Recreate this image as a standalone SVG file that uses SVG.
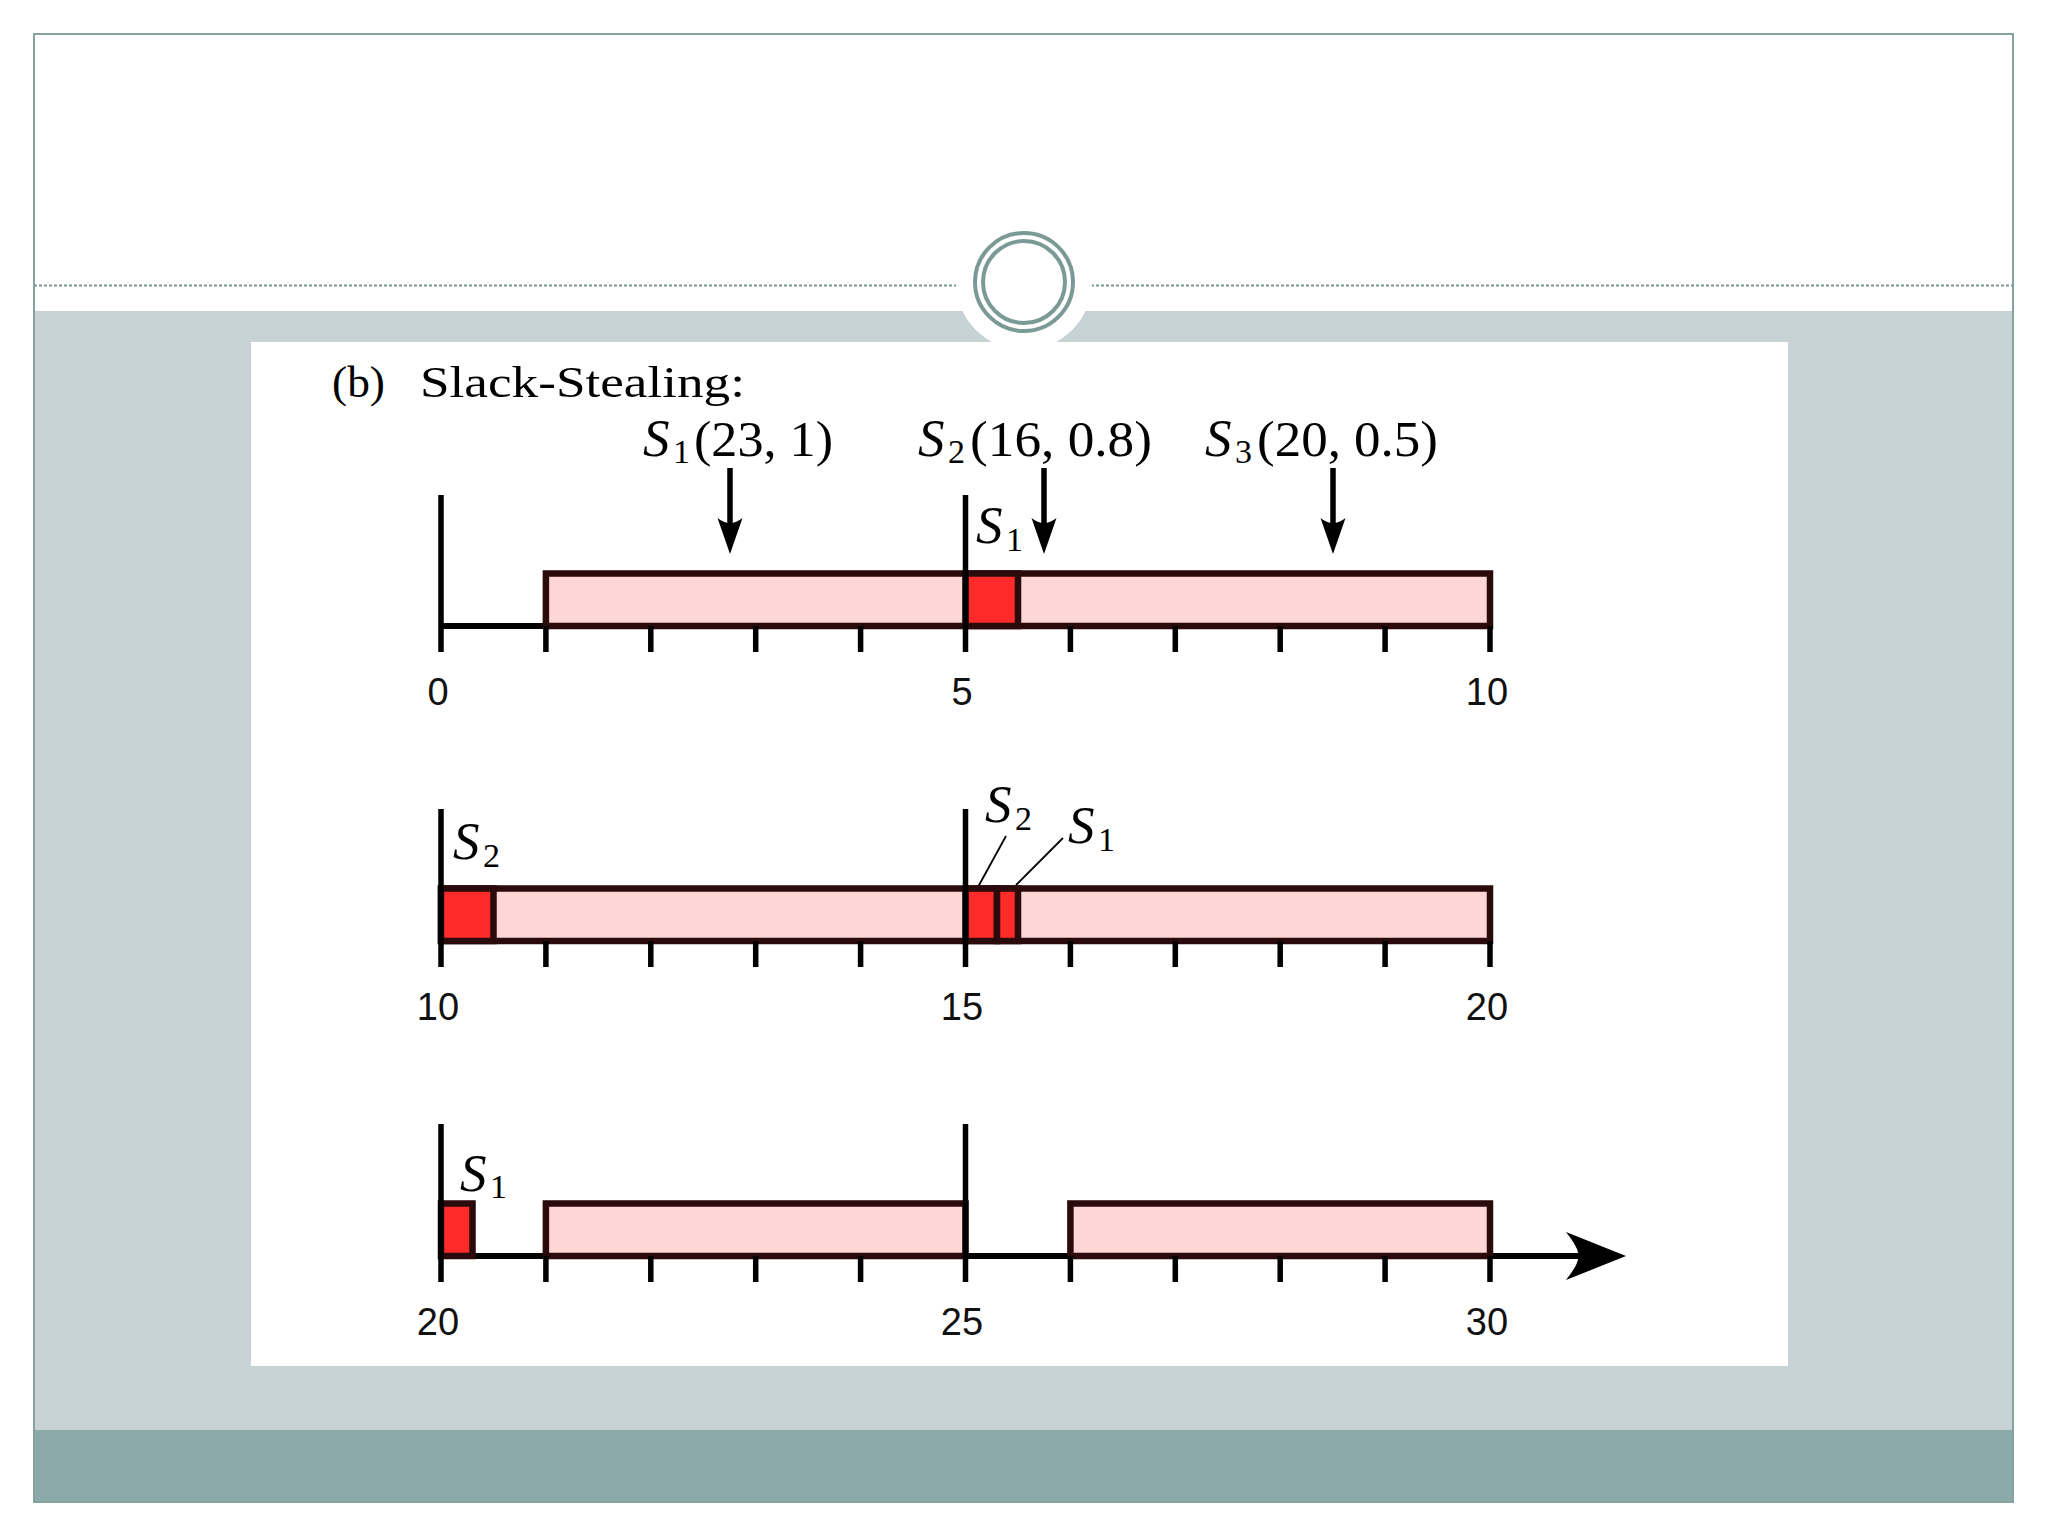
<svg xmlns="http://www.w3.org/2000/svg" width="2048" height="1536" viewBox="0 0 2048 1536">
<defs>
<style>
.bar{fill:#FDD6D6;stroke:#2A0A0A;stroke-width:6.5}
.red{fill:#FF2B2B;stroke:#2A0A0A;stroke-width:6.5}
.tk{stroke:#000;stroke-width:5.5;fill:none}
.ax{stroke:#000;stroke-width:6;fill:none}
.num{font-family:"Liberation Sans",Arial,sans-serif;font-size:38px;fill:#111;text-anchor:middle}
.S{font-family:"Liberation Serif","Times New Roman",serif;font-style:italic;font-size:53px;fill:#000}
.sub{font-family:"Liberation Serif","Times New Roman",serif;font-size:34px;fill:#000}
.m{font-family:"Liberation Serif","Times New Roman",serif;font-size:50px;fill:#000}
.ttl{font-family:"Liberation Serif","Times New Roman",serif;font-size:45px;fill:#000}
.ah{fill:#000}
.ld{stroke:#000;stroke-width:1.8;fill:none}
</style>
</defs>
<rect x="0" y="0" width="2048" height="1536" fill="#FFFFFF"/>
<g id="slide-frame">
<rect x="34" y="311" width="1979" height="1119" fill="#C6D2D4"/>
<rect x="34" y="1430" width="1979" height="72" fill="#8DAAAB"/>
<rect x="34" y="34" width="1979" height="1468" fill="none" stroke="#85A29E" stroke-width="2"/>
<line x1="34" y1="285.5" x2="957" y2="285.5" stroke="#7A9792" stroke-width="2" stroke-dasharray="3,2"/>
<line x1="1091" y1="285.5" x2="2013" y2="285.5" stroke="#7A9792" stroke-width="2" stroke-dasharray="3,2"/>
<circle cx="1024" cy="282" r="68" fill="#FFFFFF"/>
<circle cx="1024" cy="282" r="49" fill="none" stroke="#7B9A95" stroke-width="4"/>
<circle cx="1024" cy="282" r="41" fill="none" stroke="#7B9A95" stroke-width="4"/>
</g>
<rect id="panel" x="251" y="342" width="1537" height="1024" fill="#FFFFFF"/>
<g id="title">
<text class="ttl" x="332" y="397" textLength="53" lengthAdjust="spacingAndGlyphs">(b)</text>
<text class="ttl" x="420" y="397" textLength="325" lengthAdjust="spacingAndGlyphs">Slack-Stealing:</text>
</g>
<g id="arrivals">
<g id="label-S1-arrival">
<text class="S" x="643" y="456">S</text><text class="sub" x="673" y="463">1</text>
<text class="m" x="694" y="456" textLength="139" lengthAdjust="spacingAndGlyphs">(23, 1)</text>
</g>
<g id="label-S2-arrival">
<text class="S" x="918" y="456">S</text><text class="sub" x="948" y="463">2</text>
<text class="m" x="970" y="456" textLength="182" lengthAdjust="spacingAndGlyphs">(16, 0.8)</text>
</g>
<g id="label-S3-arrival">
<text class="S" x="1205" y="456">S</text><text class="sub" x="1235" y="463">3</text>
<text class="m" x="1257" y="456" textLength="181" lengthAdjust="spacingAndGlyphs">(20, 0.5)</text>
</g>
</g>
<g id="connectors">
<line class="tk" x1="730" y1="468" x2="730" y2="530"/>
<path class="ah" d="M730,554 L717.5,518 Q730,528 742.5,518 Z"/>
<line class="tk" x1="1044" y1="468" x2="1044" y2="530"/>
<path class="ah" d="M1044,554 L1031.5,518 Q1044,528 1056.5,518 Z"/>
<line class="tk" x1="1333" y1="468" x2="1333" y2="530"/>
<path class="ah" d="M1333,554 L1320.5,518 Q1333,528 1345.5,518 Z"/>
<line class="ld" x1="1006" y1="836" x2="978" y2="887"/>
<line class="ld" x1="1063" y1="838" x2="1016" y2="885"/>
</g>
<g id="row1">
<line class="ax" x1="441" y1="626" x2="546" y2="626"/>
<rect class="bar" x="545.9" y="573.5" width="944.1" height="52.5"/>
<rect class="red" x="965.5" y="573.5" width="52.5" height="52.5"/>
<line class="tk" x1="441" y1="495" x2="441" y2="652"/>
<line class="tk" x1="965.5" y1="495" x2="965.5" y2="652"/>
<path class="tk" d="M545.9,626V652M650.8,626V652M755.7,626V652M860.6,626V652M1070.4,626V652M1175.3,626V652M1280.2,626V652M1385.1,626V652M1490,626V652"/>
<text class="S" x="976" y="543">S</text><text class="sub" x="1006" y="551">1</text>
<text class="num" x="438" y="705">0</text>
<text class="num" x="962" y="705">5</text>
<text class="num" x="1487" y="705">10</text>
</g>
<g id="row2">
<rect class="bar" x="441" y="888.5" width="1049" height="52.5"/>
<rect class="red" x="441" y="888.5" width="52.5" height="52.5"/>
<rect class="red" x="965.5" y="888.5" width="31.5" height="52.5"/>
<rect class="red" x="997" y="888.5" width="21" height="52.5"/>
<line class="tk" x1="441" y1="809" x2="441" y2="967"/>
<line class="tk" x1="965.5" y1="809" x2="965.5" y2="967"/>
<path class="tk" d="M545.9,941V967M650.8,941V967M755.7,941V967M860.6,941V967M1070.4,941V967M1175.3,941V967M1280.2,941V967M1385.1,941V967M1490,941V967"/>
<text class="S" x="453" y="859">S</text><text class="sub" x="483" y="867">2</text>
<text class="S" x="985" y="822">S</text><text class="sub" x="1015" y="830">2</text>
<text class="S" x="1068" y="843">S</text><text class="sub" x="1098" y="851">1</text>
<text class="num" x="438" y="1020">10</text>
<text class="num" x="962" y="1020">15</text>
<text class="num" x="1487" y="1020">20</text>
</g>
<g id="row3">
<line class="ax" x1="441" y1="1256" x2="1585" y2="1256"/>
<path class="ah" d="M1626,1256 L1566,1232 Q1580,1250 1578,1256 Q1580,1262 1566,1280 Z"/>
<rect class="red" x="441" y="1203.5" width="31.5" height="52.5"/>
<rect class="bar" x="545.9" y="1203.5" width="419.6" height="52.5"/>
<rect class="bar" x="1070.4" y="1203.5" width="419.6" height="52.5"/>
<line class="tk" x1="441" y1="1124" x2="441" y2="1282"/>
<line class="tk" x1="965.5" y1="1124" x2="965.5" y2="1282"/>
<path class="tk" d="M545.9,1256V1282M650.8,1256V1282M755.7,1256V1282M860.6,1256V1282M1070.4,1256V1282M1175.3,1256V1282M1280.2,1256V1282M1385.1,1256V1282M1490,1256V1282"/>
<text class="S" x="460" y="1191">S</text><text class="sub" x="490" y="1198">1</text>
<text class="num" x="438" y="1335">20</text>
<text class="num" x="962" y="1335">25</text>
<text class="num" x="1487" y="1335">30</text>
</g>
</svg>
